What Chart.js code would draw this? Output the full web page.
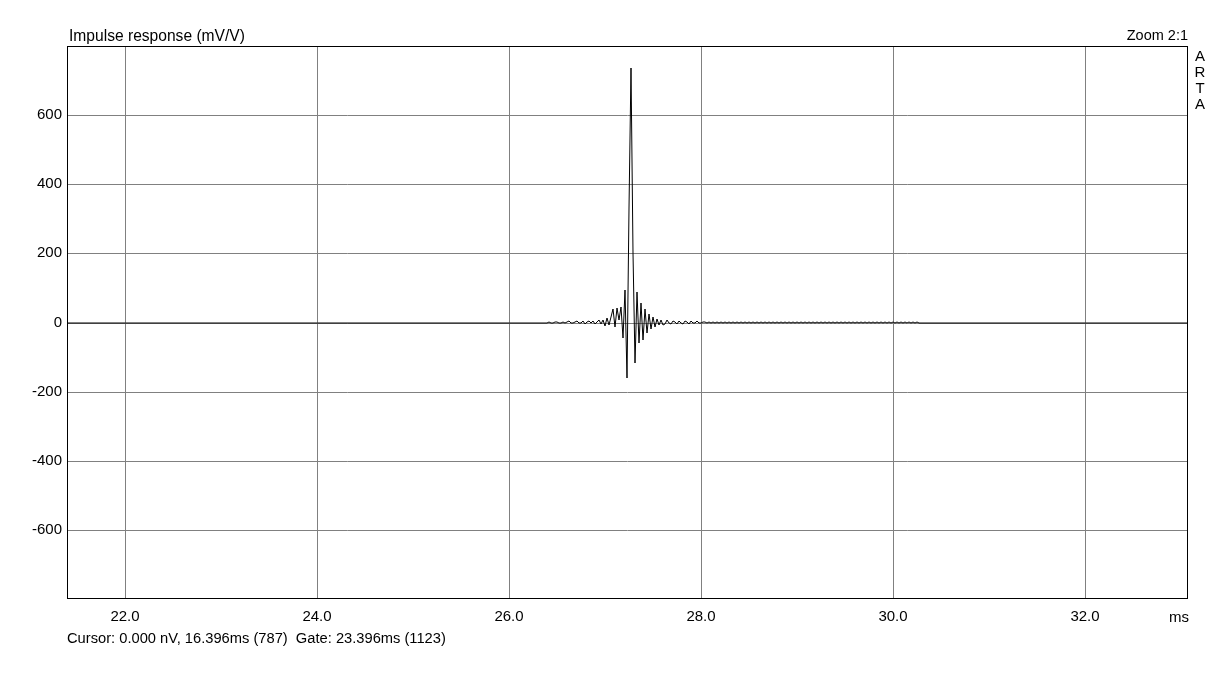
<!DOCTYPE html>
<html>
<head>
<meta charset="utf-8">
<script src="https://cdn.jsdelivr.net/npm/chart.js@4/dist/chart.umd.min.js"></script>
<style>
  body { margin: 0; background: #fff; }
  #wrap { position: relative; width: 1224px; height: 676px; font-family: "Liberation Sans", Arial, sans-serif; font-size: 15px; color: #000; }
  #wrap div.lbl { position: absolute; line-height: 15px; white-space: pre; }
  #arta { position: absolute; left: 1193px; top: 48px; width: 14px; text-align: center; line-height: 16px; }
</style>
</head>
<body>
<div id="wrap">
  <canvas id="irChart" width="1224" height="676"></canvas>
  <div class="lbl" style="left:69px; top:28px; font-size:15.6px;">Impulse response (mV/V)</div>
  <div class="lbl" style="right:36px; top:28px; font-size:14.5px;">Zoom 2:1</div>
  <div id="arta">A<br>R<br>T<br>A</div>
  <div class="lbl" style="right:35px; top:609px;">ms</div>
  <div class="lbl" style="left:67px; top:631px; font-size:14.7px;">Cursor: 0.000 nV, 16.396ms (787)  Gate: 23.396ms (1123)</div>
</div>
<script>
// sample rate in samples per ms (48 kHz)
var samplesPerMs = 48;
// first sample that is not zero
var firstSample = 1267;

// low level ringing before the peak (samples 1267..1289)
var preRing = [0, 1, 0, -1, 1, 2, -1, 0, 2, -2, 1, 3, -1, -2, 2, 3, -2, 0, 3, -3, 1, 4, -2];
// main part of the impulse (samples 1290..1325)
var impulse = [3, -5, 2, 6, -4, 6, -10, 12, -8, 15, 38, -12, 42, 8, 45, -45, 95, -162, 330, 737,
               200, -118, 87, -60, 55, -50, 40, -30, 25, -20, 15, -12, 10, -8, 6, -7];
// decaying ringing after the peak (samples 1326..1345)
var postRing = [-4, 6, -2, -5, 4, 2, -4, 5, -1, -3, 4, 1, -3, 3, 0, -2, 3, -1, -2, 2];
// long tail (samples 1346..1453)
var tail = [2, -1, 1, -2, 1, -1, 2, -1, 1, -2, 1, -1,
            1, -1, 2, -1, 1, -1, 1, -2, 1, -1, 1, -1,
            2, -1, 1, -1, 1, -2, 1, -1, 1, -1, 2, -1,
            1, -1, 1, -1, 1, -1, 2, -1, 1, -1, 1, -1,
            1, -2, 1, -1, 1, -1, 1, -1, 2, -1, 1, -1,
            1, -1, 1, -1, 1, -2, 1, -1, 1, -1, 1, -1,
            2, -1, 1, -1, 1, -1, 1, -1, 1, -2, 1, -1,
            1, -1, 1, -1, 2, -1, 1, -1, 1, -1, 1, -1,
            1, -1, 1, -2, 1, -1, 1, -1, 1, -1, 1, 0];

// axis ranges and tick labels
var xMin = 1027 / samplesPerMs, xMax = 33.07;
var yMin = -800, yMax = 800;
var xTicks = [22, 24, 26, 28, 30, 32];
var yTicks = [-600, -400, -200, 0, 200, 400, 600];

var values = preRing.concat(impulse, postRing, tail);
var points = [{x: xMin, y: 0}];
values.forEach(function(v, i) {
  points.push({x: (firstSample + i) / samplesPerMs, y: v});
});
points.push({x: xMax, y: 0});

var tickFont = {family: '"Liberation Sans", Arial, sans-serif', size: 15};

// frame around the plot area
var frame = {
  id: 'frame',
  afterDraw: function(chart) {
    var a = chart.chartArea, ctx = chart.ctx;
    ctx.save();
    ctx.strokeStyle = '#000';
    ctx.lineWidth = 1;
    ctx.strokeRect(Math.round(a.left) + 0.5, Math.round(a.top) + 0.5,
                   Math.round(a.right - a.left) - 1, Math.round(a.bottom - a.top) - 1);
    ctx.restore();
  }
};

new Chart(document.getElementById('irChart'), {
  type: 'line',
  data: {
    datasets: [{
      data: points,
      borderColor: '#000',
      borderWidth: 1,
      pointRadius: 0,
      tension: 0,
      fill: false
    }]
  },
  options: {
    responsive: false,
    animation: false,
    layout: {padding: {left: 0, top: 46, right: 36, bottom: 47}},
    plugins: {legend: {display: false}, tooltip: {enabled: false}},
    scales: {
      x: {
        type: 'linear', min: xMin, max: xMax, alignToPixels: true,
        afterBuildTicks: function(s) { s.ticks = xTicks.map(function(v) { return {value: v}; }); },
        afterFit: function(s) { s.height = 30; },
        ticks: {font: tickFont, color: '#000', padding: 9, maxRotation: 0, autoSkip: false,
                callback: function(v) { return v.toFixed(1); }},
        grid: {color: '#808080', lineWidth: 1, drawTicks: false},
        border: {display: false}
      },
      y: {
        type: 'linear', min: yMin, max: yMax, alignToPixels: true,
        afterBuildTicks: function(s) { s.ticks = yTicks.map(function(v) { return {value: v}; }); },
        afterFit: function(s) { s.width = 67; },
        ticks: {font: tickFont, color: '#000', padding: 5, autoSkip: false,
                callback: function(v) { return String(v); }},
        grid: {color: '#808080', lineWidth: 1, drawTicks: false},
        border: {display: false}
      }
    }
  },
  plugins: [frame]
});
</script>
</body>
</html>
